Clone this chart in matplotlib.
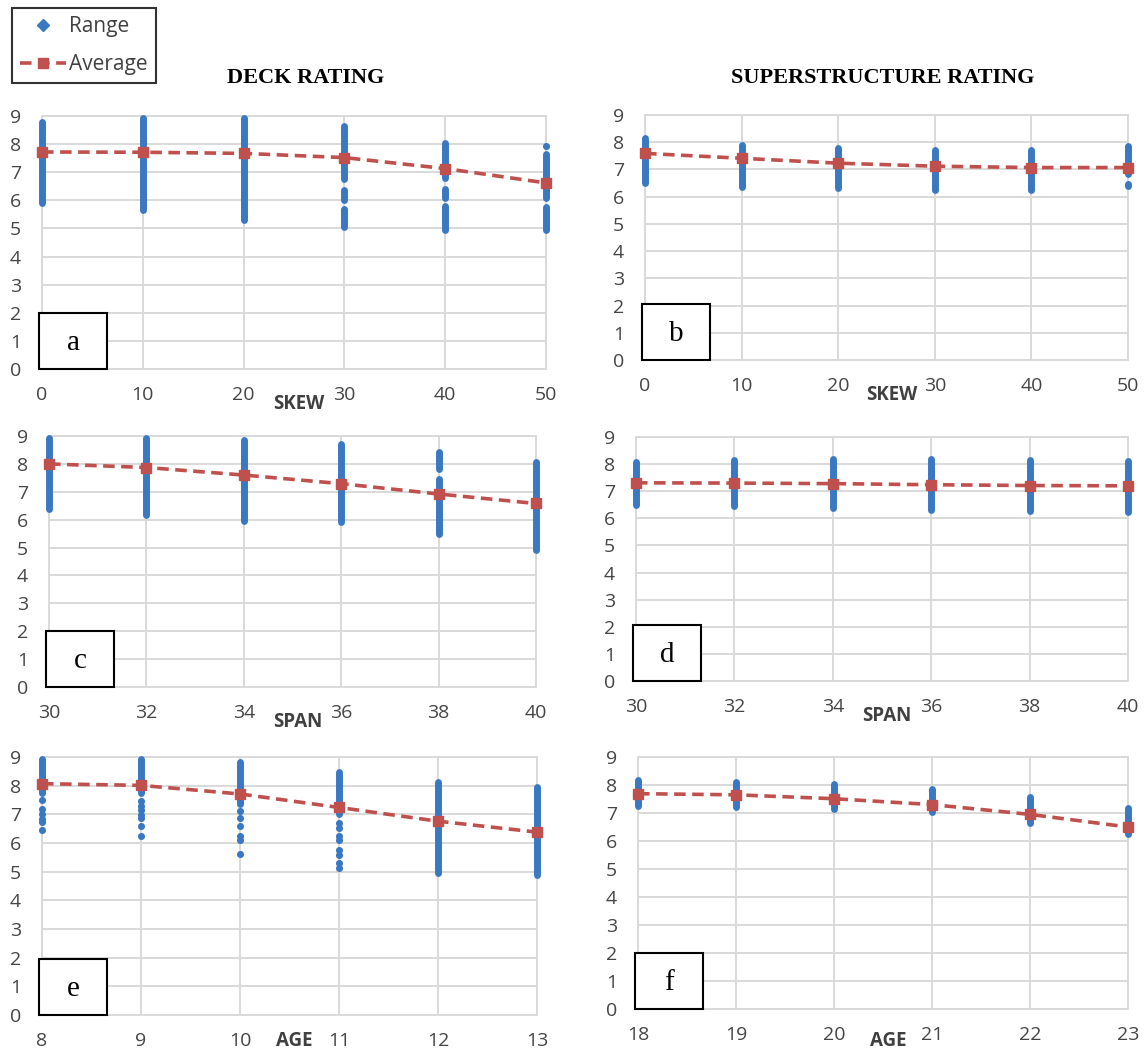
import matplotlib
matplotlib.use("Agg")
import matplotlib.pyplot as plt
from matplotlib.lines import Line2D
from matplotlib.patches import Rectangle

# x categories
skew = [0, 10, 20, 30, 40, 50]
span = [30, 32, 34, 36, 38, 40]
age_deck = [8, 9, 10, 11, 12, 13]
age_sup = [18, 19, 20, 21, 22, 23]

# averages
deck_skew_avg = [7.72, 7.71, 7.67, 7.52, 7.13, 6.62]
sup_skew_avg = [7.59, 7.41, 7.23, 7.12, 7.07, 7.07]
deck_span_avg = [8.0, 7.87, 7.6, 7.29, 6.92, 6.58]
sup_span_avg = [7.31, 7.3, 7.28, 7.24, 7.21, 7.2]
deck_age_avg = [8.07, 8.01, 7.71, 7.24, 6.76, 6.38]
sup_age_avg = [7.69, 7.65, 7.51, 7.3, 6.95, 6.5]

# range: continuous runs of points (low, high) and single points
deck_skew_runs = [[(5.9, 8.8)], [(5.65, 8.92)], [(5.3, 8.92)],
                  [(6.75, 8.65), (6.0, 6.35), (5.05, 5.7)],
                  [(6.8, 8.05), (6.1, 6.4), (4.95, 5.8)],
                  [(6.1, 7.65), (4.95, 5.78)]]
deck_skew_dots = [[], [], [], [], [], [7.92]]
sup_skew_runs = [[(6.5, 8.15)], [(6.35, 7.9)], [(6.3, 7.77)],
                 [(6.25, 7.72)], [(6.25, 7.73)], [(6.83, 7.85), (6.38, 6.45)]]
sup_skew_dots = [[], [], [], [], [], []]
deck_span_runs = [[(6.4, 8.92)], [(6.15, 8.92)], [(5.95, 8.85)],
                  [(5.9, 8.7)], [(7.8, 8.42), (5.47, 7.45)], [(4.93, 8.08)]]
deck_span_dots = [[], [], [], [], [], []]
sup_span_runs = [[(6.5, 8.06)], [(6.45, 8.15)], [(6.38, 8.2)],
                 [(6.32, 8.2)], [(6.26, 8.15)], [(6.24, 8.1)]]
sup_span_dots = [[], [], [], [], [], []]
deck_age_runs = [[(7.75, 8.92)], [(7.75, 8.92)], [(7.35, 8.82)],
                 [(7.0, 8.48)], [(4.97, 8.12)], [(4.9, 7.95)]]
deck_age_dots = [[7.5, 7.2, 7.0, 6.85, 6.73, 6.44],
                 [7.45, 7.28, 7.16, 6.99, 6.87, 6.6, 6.23],
                 [7.1, 6.87, 6.58, 6.23, 6.11, 5.62],
                 [6.7, 6.52, 6.23, 6.11, 5.76, 5.59, 5.3, 5.12],
                 [], []]
sup_age_runs = [[(7.26, 8.17)], [(7.2, 8.11)], [(7.14, 8.05)],
                [(7.02, 7.85)], [(6.66, 7.57)], [(6.25, 7.18)]]
sup_age_dots = [[], [], [], [], [], []]

BLUE = "#3B78C2"
RED = "#C0504D"
GRID = "#d9d9d9"
TICK = "#454545"

W, H = 1146, 1055
fig = plt.figure(figsize=(W / 100, H / 100), dpi=100)


def add_panel(box, xs, avg, runs, dots, xlabel, letter, title_off=-25):
    left, right, top, bot = box
    ax = fig.add_axes([left / W, 1 - bot / H, (right - left) / W, (bot - top) / H])
    for x, rr in zip(xs, runs):
        lo = [r[0] for r in rr]
        hi = [r[1] for r in rr]
        lc = ax.vlines([x] * len(rr), lo, hi, color=BLUE, lw=5, zorder=3)
        lc.set_capstyle("round")
        lc.set_clip_on(False)
    for x, dd in zip(xs, dots):
        if dd:
            ax.scatter([x] * len(dd), dd, s=26, color=BLUE, zorder=3, clip_on=False, lw=0)
    ax.plot(xs, avg, ls=(0, (3.2, 1.8)), lw=2.6, color=RED, marker="s", ms=7.5,
            zorder=4, clip_on=False)
    ax.set_xlim(xs[0], xs[-1])
    ax.set_ylim(0, 9)
    ax.set_xticks(xs)
    ax.set_yticks(range(10))
    ax.grid(True, color=GRID, lw=1.4)
    ax.set_axisbelow(True)
    for s in ax.spines.values():
        s.set_color(GRID)
        s.set_linewidth(1.4)
    ax.tick_params(length=0, labelsize=14, colors=TICK)
    ax.tick_params(axis="x", pad=12)
    ax.tick_params(axis="y", pad=15)
    for t in ax.get_xticklabels() + ax.get_yticklabels():
        t.set_family("Open Sans")
    ax.annotate(xlabel, xy=(0.51, 0), xycoords="axes fraction", xytext=(0, title_off),
                textcoords="offset points", ha="center", va="center",
                fontsize=13.5, fontweight="bold", color="#404040", family="Open Sans")
    # letter box in lower left corner
    fig.patches.append(Rectangle(((left - 3) / W, 1 - bot / H), 68 / W, 56 / H,
                                 transform=fig.transFigure, fill=True, fc="white",
                                 ec="black", lw=1.5, zorder=5))
    fig.text((left + 31) / W, 1 - (bot - 26) / H, letter, ha="center", va="center",
             fontsize=21, family="Liberation Serif", zorder=6)
    return ax


add_panel((42, 546, 116, 369), skew, deck_skew_avg, deck_skew_runs, deck_skew_dots, "SKEW", "a")
add_panel((645, 1128, 115, 360), skew, sup_skew_avg, sup_skew_runs, sup_skew_dots, "SKEW", "b")
add_panel((49, 536, 436, 687), span, deck_span_avg, deck_span_runs, deck_span_dots, "SPAN", "c")
add_panel((636, 1128, 437, 681), span, sup_span_avg, sup_span_runs, sup_span_dots, "SPAN", "d")
add_panel((42, 537, 757, 1015), age_deck, deck_age_avg, deck_age_runs, deck_age_dots, "AGE", "e",
          title_off=-19)
add_panel((638, 1128, 757, 1009), age_sup, sup_age_avg, sup_age_runs, sup_age_dots, "AGE", "f",
          title_off=-23)

fig.text(306 / W, 1 - 78 / H, "DECK RATING", ha="center", va="center",
         fontsize=16, fontweight="bold", family="Liberation Serif")
fig.text(883 / W, 1 - 78 / H, "SUPERSTRUCTURE RATING", ha="center", va="center",
         fontsize=16, fontweight="bold", family="Liberation Serif")

handles = [Line2D([], [], ls="none", marker="D", ms=6, color=BLUE),
           Line2D([], [], ls=(0, (3.2, 1.8)), lw=2.6, marker="s", ms=7.5, color=RED)]
leg = fig.legend(handles, ["Range", "Average"], loc="upper left",
                 bbox_to_anchor=(12 / W, 1 - 8 / H), borderaxespad=0, frameon=True,
                 fancybox=False, edgecolor="black", handlelength=2.2, handletextpad=0.15,
                 borderpad=0.4, labelspacing=0.8, prop={"family": "Open Sans", "size": 15})
leg.get_frame().set_linewidth(1.5)
for t in leg.get_texts():
    t.set_color("#404040")

fig.savefig("out.png", dpi=100)
